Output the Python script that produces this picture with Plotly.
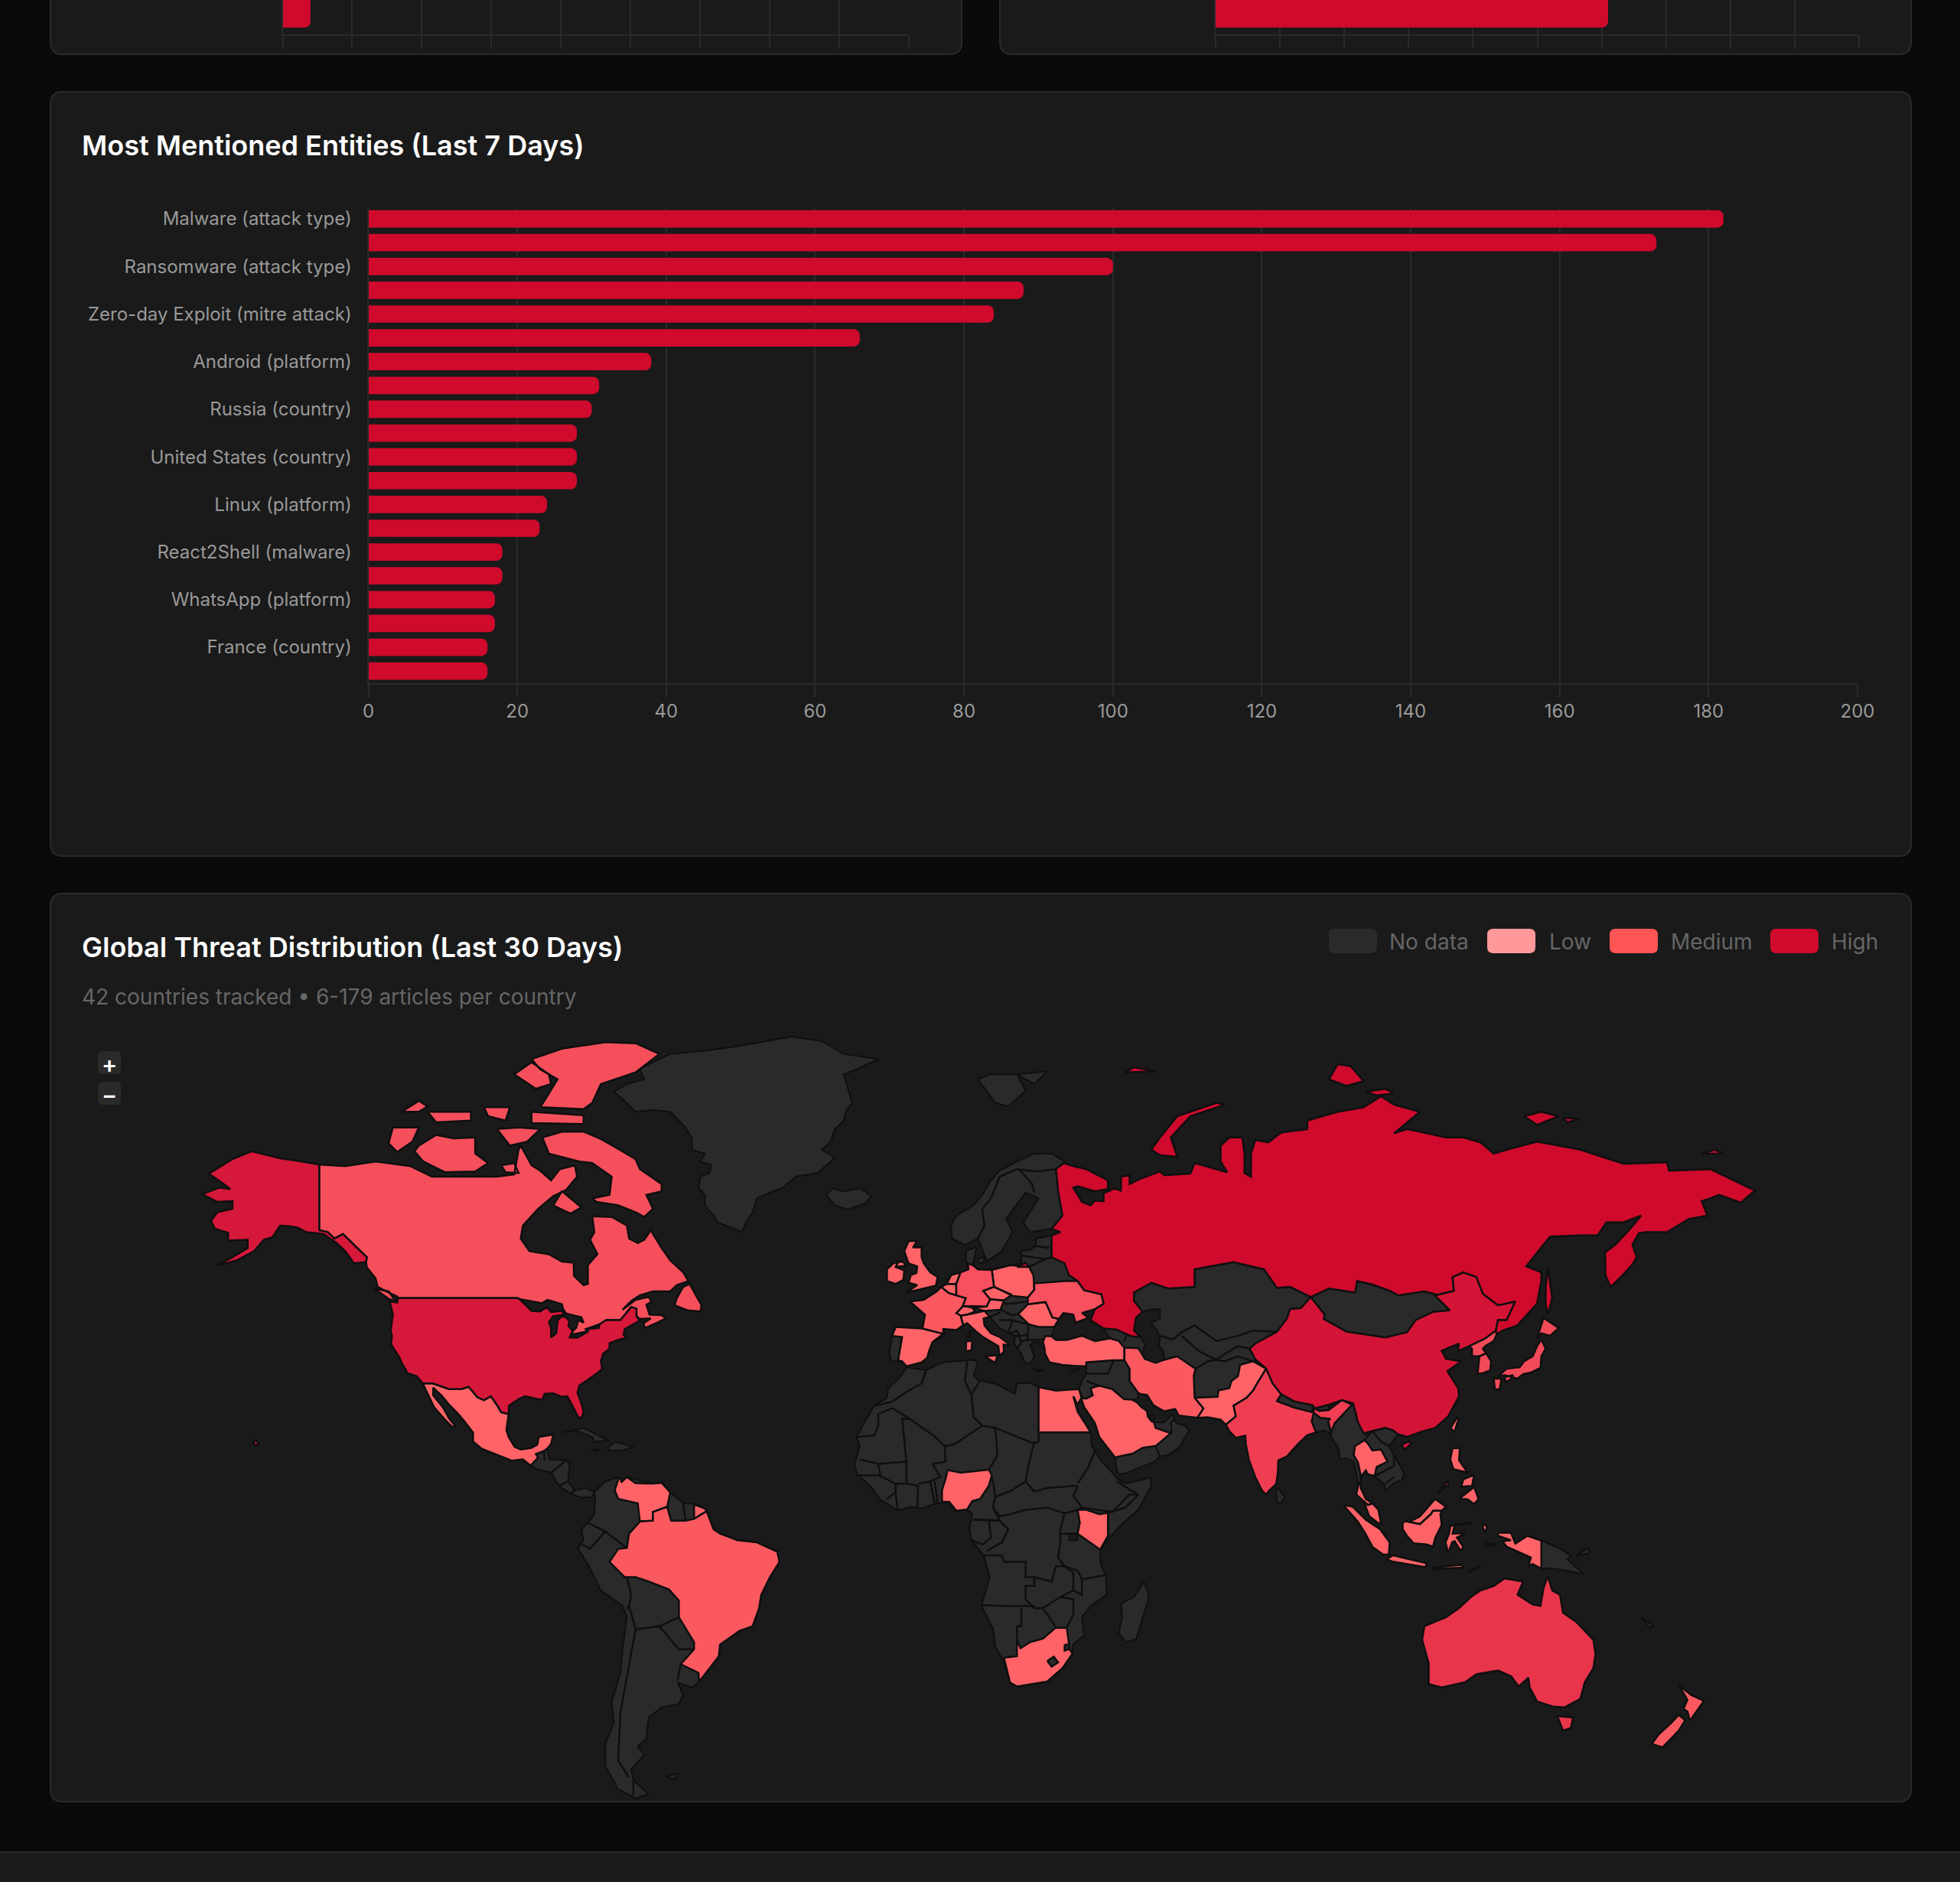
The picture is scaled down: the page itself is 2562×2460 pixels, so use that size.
import math
import plotly.graph_objects as go

W, H = 2562, 2460
BG, CARD, BORDER = "#0a0a0a", "#1a1a1a", "#2a2a2a"
HIGH, MED, LOW = "#cf0a2c", "#ff5555", "#ff9999"
STROKE = "#0f0f0f"
FONT = "Inter, sans-serif"

# ---- top (cropped) charts
top_left_labels = ["Hospitality"]
top_left_values = [0.4]
top_right_labels = ["Coupang"]
top_right_values = [6.1]

# ---- entities chart
entity_values = [182, 173, 100, 88, 84, 66, 38, 31, 30, 28, 28, 28, 24, 23, 18, 18, 17, 17, 16, 16]
entity_tick_index = [0, 2, 4, 6, 8, 10, 12, 14, 16, 18]
entity_tick_labels = ["Malware (attack type)", "Ransomware (attack type)", "Zero-day Exploit (mitre attack)",
                      "Android (platform)", "Russia (country)", "United States (country)", "Linux (platform)",
                      "React2Shell (malware)", "WhatsApp (platform)", "France (country)"]
entity_x_ticks = [0, 20, 40, 60, 80, 100, 120, 140, 160, 180, 200]

legend_names = ["No data", "Low", "Medium", "High"]
legend_colors = [BORDER, LOW, MED, HIGH]

# ---- map outlines, (lon, lat)
ALASKA = [(-141,69.6),(-145,70),(-150,70.4),(-156.6,71.3),(-161,70.3),(-166.5,68.4),(-163,67),(-161.5,66.3),(-164,66.5),(-168,65.6),(-164.5,64.5),(-161,64.6),(-161,63.5),(-164.5,63),(-166,61.7),(-165,60.5),(-162,59.9),(-162,58.7),(-157.5,58.8),(-157.5,57.5),(-161,56),(-164.8,54.6),(-160,55.5),(-156,57),(-153.8,58.8),(-151.8,59.2),(-150,61),(-148,60.9),(-146,60.7),(-144,60),(-140,59.7),(-137,58.3),(-135,57),(-133,55),(-130.2,55.2),(-130,56),(-133,58),(-135.5,59.7),(-137.5,59),(-139,60),(-141,60.3)]
HAWAII = [(-156,19),(-155,19.5),(-155.5,20.2),(-156,20.2)]
USA48 = [(-124.7,48.4),(-123,48.2),(-122.8,49),(-95.2,49),(-94.6,48.7),(-92,46.7),(-90,46.6),(-88.5,47.4),(-87.5,46.5),(-85,46.7),(-84.5,46),(-85,45.9),(-87,45.7),(-88,44.6),(-87.5,43.5),(-87.5,41.7),(-86.3,42.5),(-86,44.9),(-85,45.7),(-84,45.5),(-83.3,44.8),(-83.5,43.9),(-82.5,43),(-82.9,42.1),(-83.2,41.7),(-81.5,41.6),(-79,42.8),(-79,43.3),(-76.5,43.5),(-76.3,44.2),(-74.8,45),(-71.5,45),(-70.3,46.2),(-69,47.4),(-67.8,47.1),(-67.8,45.7),(-67,44.9),(-69,44),(-70.5,43.3),(-70.8,42.2),(-70,41.7),(-72,41.2),(-74,40.6),(-74,39.5),(-75.5,38.5),(-76,37),(-75.7,35.5),(-76.7,34.7),(-78,33.9),(-79.2,33.2),(-81,32),(-81.4,30.5),(-80.4,28),(-80,26.5),(-80.4,25.2),(-81.2,25.3),(-82,26.8),(-82.8,28.2),(-83.8,29.8),(-85.2,29.7),(-87,30.4),(-89,30.3),(-89.5,29.1),(-91,29.3),(-93.5,29.8),(-95,29.2),(-97.2,27.8),(-97.3,26),(-99,26.4),(-100,28),(-101.4,29.8),(-103,29),(-104.5,29.6),(-106.5,31.8),(-108.2,31.3),(-111,31.3),(-114.8,32.5),(-117.1,32.5),(-118.5,34),(-120.6,34.6),(-121.9,36.6),(-122.5,37.8),(-123.8,39.5),(-124.4,40.4),(-124.2,42),(-124.5,43),(-124,46)]
CANADA = [(-141,69.6),(-135,69.4),(-128,70),(-125,69.8),(-120,69.4),(-115,68),(-110,68),(-105,68),(-100,68),(-96,68.3),(-95,71.5),(-94.5,72),(-92,69.5),(-90,68.8),(-87.5,67.5),(-85.5,69),(-82,69.5),(-81.5,68),(-84,66.2),(-87,65.3),(-90.5,63.5),(-94,61),(-94.5,59),(-92.5,57),(-88,56.5),(-85,55.3),(-82.3,55.1),(-82.2,52.9),(-80,51.3),(-79,51.5),(-79,54.7),(-76.8,56.5),(-78.5,58.8),(-77.5,60),(-78,62.4),(-73.5,62.3),(-70,61),(-69.5,59),(-67.5,58.3),(-66,58.8),(-64.5,60.3),(-62,57.5),(-60,55.5),(-57,53.5),(-55.8,52),(-58.5,51.3),(-60,50.2),(-64,50.2),(-67,49.5),(-69,48.5),(-71,46.9),(-68,48.7),(-65,49.2),(-64.3,48.4),(-65.5,47.8),(-64.8,46),(-62,45.9),(-61,45.3),(-63,44.5),(-65.8,43.5),(-66.2,44.4),(-64.5,45.3),(-67,45.2),(-67.8,45.7),(-67.8,47.1),(-69,47.4),(-70.3,46.2),(-71.5,45),(-74.8,45),(-76.3,44.2),(-79.5,43.3),(-79,42.9),(-83,42.2),(-82.4,43),(-81.7,43.5),(-81.2,45),(-80,44.5),(-80.5,45.5),(-84,46.2),(-84.7,47),(-85,47.9),(-88.3,48.7),(-89.6,48.1),(-92,48.4),(-94.6,48.8),(-95.2,49),(-122.8,49),(-123,49.3),(-125,50),(-127.5,51),(-128,52.5),(-130,54.3),(-130.2,55.2),(-130,56),(-133,58),(-135.5,59.7),(-137.5,59),(-139,60),(-141,60.3)]
BAFFIN = [(-80,73.7),(-76,72.8),(-72,71.6),(-68,70.3),(-67,69),(-62,67),(-62,66),(-65.5,65.5),(-64,63.5),(-66,62.3),(-68,63),(-72,64),(-77,64.5),(-78,65),(-74,65.5),(-73.5,68),(-78,69.8),(-81,70),(-88,71),(-89.5,73),(-85,73.7)]
VICTORIA = [(-117,70),(-112,68.6),(-105,68.7),(-102,69.8),(-105,71),(-105,73),(-110,72.9),(-114,73.3),(-118,72),(-119,71.3)]
ELLESMERE = [(-90,76.5),(-80,76.3),(-78,77),(-76,79),(-68,80.2),(-62.5,82),(-68,83),(-75,83.1),(-85,82.5),(-92,81.5),(-90,80.5),(-86,79.5),(-88,78)]
AXEL = [(-96,80),(-92,81.2),(-88,80),(-87.5,79),(-91,78.5)]
DEVON = [(-92,76),(-80,75.6),(-80,74.6),(-92,74.7)]
BANKS = [(-123,71.2),(-125,72.3),(-124,74.2),(-118,74.2),(-119.5,72.5)]
MELVILLE = [(-116,76),(-106,76),(-106,75),(-114,74.8)]
PATRICK = [(-122,76),(-118,77.2),(-116,76.6),(-118,76)]
BATHURST = [(-103,76.5),(-97,76.5),(-98,75),(-102,75.5)]
KING_WILLIAM = [(-99,69.5),(-96,69.8),(-95,68.5),(-98,68.6)]
SOMERSET = [(-100,74),(-97,72),(-93,72.5),(-90,74),(-95,74.2)]
SOUTHAMPTON = [(-87,64),(-83,62.8),(-80.5,63.7),(-85,66)]
NEWFOUNDLAND = [(-59,47.7),(-56,46.8),(-53,46.6),(-52.8,47.8),(-54,49.4),(-55.5,51.5),(-57,51),(-58.5,49)]
VANCOUVER = [(-128.3,50.7),(-125,48.9),(-123.3,48.4),(-125,50.2)]
MEXICO = [(-117.1,32.5),(-114.8,32.5),(-111,31.3),(-108.2,31.3),(-106.5,31.8),(-104.5,29.6),(-103,29),(-101.4,29.8),(-100,28),(-99,26.4),(-97.3,26),(-97.8,22.5),(-97.3,21),(-95.9,18.8),(-94.5,18.2),(-92,18.6),(-90.7,19.3),(-90.3,21),(-87,21.5),(-87.5,19.5),(-88.3,18.5),(-89.1,17.9),(-91,17.2),(-90.5,16.4),(-92.2,14.6),(-94,16),(-96.5,15.7),(-100,17),(-103.5,18.4),(-105.5,20),(-105.5,22),(-108,25),(-109.4,26.5),(-111,28),(-112.8,30),(-114.7,31.6),(-114.7,30),(-112.5,27.5),(-111,25),(-109.5,23.3),(-110.3,23.2),(-112.2,25),(-114.5,27.5),(-115.8,30)]
GREENLAND = [(-73,78.2),(-71,77.4),(-68,76),(-64,76.2),(-60,76),(-57,74.5),(-55,73),(-55,71.5),(-52,71),(-53,70),(-50.5,69.5),(-51,68.5),(-53,68),(-53.5,66.5),(-52,65.5),(-52,64),(-50,62.5),(-49,61.5),(-46,60.7),(-43.5,60),(-42.5,61.5),(-41,63),(-40,65),(-37,65.8),(-34,66.5),(-31,68),(-26,68.5),(-23,70),(-22,70.5),(-25,71.5),(-23,72.5),(-22,74),(-20,75),(-19.5,76),(-18,77),(-19,78.5),(-20,80),(-17,80.5),(-12,81.5),(-20,82),(-25,83.2),(-32,83.6),(-45,82.7),(-52,82.3),(-60,82),(-65,81),(-67,80.5),(-66,79.5),(-70,79)]
ICELAND = [(-24,65.5),(-22,64),(-19,63.4),(-15,64.3),(-13.6,65.3),(-16,66.4),(-20,66),(-22.5,66.4)]
SVALBARD = [(11,79.5),(15,77),(18,76.6),(22,78.3),(20,80),(14,80)]
SVALBARD_E = [(20,80),(27,80.3),(24,79)]
RUSSIA = [(30.8,69.8),(33,69.4),(36,69),(41,67.5),(41,66.3),(38,66),(34,66.7),(33,66.5),(35,64.5),(37,64),(38,64.7),(40,64.6),(40,65.7),(42.5,66.4),(44,66.1),(44,68),(46,68.2),(46,67),(48,67.6),(53,68.7),(54,68.2),(60,68.4),(61,69.8),(65,69.2),(68.5,68.6),(67,70),(67,72),(69,73),(72,73),(72.5,71),(72.5,68.5),(74,68),(74,71),(75,72.7),(78,72.4),(81,73.6),(87,74),(87,75),(94,76),(100,76.5),(104,77.7),(107,76.8),(113,76),(107,73.5),(110,74),(113,73.7),(119,73),(123,73),(127,72.4),(130,71),(133,71.5),(140,72.5),(150,71.5),(160,69.7),(170,69.9),(170.5,68.8),(180,69),(190.3,66.1),(187,64.4),(182,65.5),(180,65),(178,64.6),(179.3,62.5),(175,62),(170,60),(165,60),(163.5,59.8),(162,58),(163,56),(162,54.8),(160,53.2),(157,51),(155.8,53),(155.7,56.8),(158,58),(161.5,60.5),(164,62.5),(160,61.5),(156,61.5),(154,59.5),(150,59.5),(143,59.3),(137.5,54.5),(141,53.5),(141,52),(140,48),(135.5,44),(132,43),(130.7,42.3),(130.5,43),(131,45),(133,45),(135,48.4),(131,47.7),(127.5,49.8),(126,52.7),(123,53.5),(120.5,52.7),(120.8,50.3),(117,49.6),(114,50.2),(108,49.5),(106,50.3),(102,51.4),(98.5,52),(98,50),(92,50.7),(87.8,49.2),(83,51),(80,50.8),(77,54),(71,55),(70,55.2),(61,54),(61,51),(55,50.7),(51,51.7),(47,50),(47,48.5),(49,46.5),(47.5,45.5),(47,43),(48.5,41.8),(46.5,41.9),(43,43.2),(40,43.4),(37,45),(38,47),(40,48),(39.5,49.7),(35.5,50.4),(34,52),(32,53),(31,55),(28,56),(28,59.5),(30,60),(28,60.5),(30.5,62.5),(29.5,66),(29,69)]
NOVAYA = [(51,71.5),(53,70.8),(57,70.6),(55.5,73),(60,75.5),(68,76.8),(66,77),(57,75.5),(53,73)]
FRANZ = [(47,80.7),(52,80.3),(45,80.2)]
SEVERNAYA = [(94,81),(97,80.8),(100,79.3),(96,78.8),(92,79.5)]
SEVERNAYA_S = [(100.5,78.2),(105,78.5),(107,78),(103,77.8)]
NEWSIB = [(137,75.5),(141,76),(145,75.5),(140,74.5)]
NEWSIB_E = [(146,75.3),(150,75.2),(147,74.8)]
WRANGEL = [(178,71),(181,71.5),(183,71)]
SAKHALIN = [(142.5,54.3),(143,52),(143.5,49),(142.5,46),(142,48),(142,51)]
KALININGRAD = [(20,54.4),(22.8,54.4),(22,55.1)]
EURASIA_BASE = [(-9,37),(-9.5,38.7),(-8.8,42),(-8,43.7),(-1.8,43.4),(-1.2,46),(-4.7,48.4),(-1.5,48.7),(1.5,50.2),(3.5,51.4),(4.8,53),(7,53.5),(8.8,54),(8.2,55.5),(8.2,57),(10.6,57.7),(10.3,56.3),(9.8,55),(11,54),(14,54),(18.5,54.7),(21,55),(21,57),(23,57.2),(24.3,57.8),(24.5,59),(28,59.5),(30,60),(40,48),(38,47),(35,46.3),(36.5,45.4),(33.5,44.5),(33,46),(30.7,46.3),(29.7,45.2),(28.6,43.5),(28,41.9),(26,40.7),(24,40.9),(23,40.3),(24,38),(23,36.5),(21.7,36.9),(21,38.5),(19.4,40.4),(19.5,42),(16,43.5),(13.7,45.6),(12.3,45.4),(8.5,44.4),(6,43.1),(3,43.3),(3.3,42),(0.5,40.8),(-0.3,39),(-0.7,37.7),(-2,36.8),(-5.5,36),(-6.5,37)]
SCANDINAVIA = [(5,59),(4.8,61),(6,62.5),(10,64),(12,65.5),(14,67.5),(16,68.8),(20,70),(24,71),(28,71),(31,70),(29,69),(29.5,66),(30.5,62.5),(28,60.5),(23,60),(21.5,61.5),(25,65),(22,65.8),(17.5,62),(19,60),(16.5,57),(14.5,56),(13,55.4),(11,59),(8,58)]
ZEALAND = [(11,55.7),(12.5,56),(12.3,55),(11,55.2)]
CRETE = [(23.6,35.5),(26.2,35.1),(24.8,35)]
CYPRUS = [(32.3,35),(34.5,35.6),(33.7,34.8)]
CENTRAL_ASIA = [(51,51.7),(55,50.7),(61,51),(61,54),(70,55.2),(71,55),(77,54),(80,50.8),(83,51),(87.8,49.2),(85.5,47.2),(83,47),(82.3,45.3),(80,42.8),(75,40.5),(73.7,39.5),(75,37.4),(74.5,37),(71.5,36.3),(71,34),(69.5,33),(69,31.5),(66.5,31),(66.3,29.7),(61,29.5),(60.8,34),(61.2,35.5),(57,38),(54,37.3),(53.8,39),(52.8,40),(53,41.5),(52.5,42.8),(51,44.5),(53,45.3),(53,47),(51,47),(49,46.5),(47,48.5),(47,50)]
CAUCASUS = [(40,43.4),(43,43.2),(46.5,41.9),(48.5,41.8),(49.5,40.3),(48.9,38.4),(48,39.6),(44.8,39.7),(43.5,41),(41.5,41.5)]
LEVANT = [(36,36.8),(42.3,37.2),(44.8,37.2),(46,35.5),(46,33),(48,30.5),(48,29.5),(47,29),(46.5,29.1),(44.7,29.2),(42,31.3),(39,32),(37,31.5),(37.5,30),(36,29.3),(35,29.5),(34.3,31.3),(35,33),(36,34.5)]
SAUDI = [(34.8,29.4),(36,29.3),(37.5,30),(37,31.5),(39,32),(42,31.3),(44.7,29.2),(46.5,29.1),(47.7,28.5),(48.7,27.5),(50,26.7),(50.2,25.5),(51,24.5),(51.6,24.2),(52,23),(55,22),(55.7,22),(52,19),(49,18.6),(46.7,17.3),(43.2,16.6),(42.7,16.4),(41,18.5),(39,21),(38,24),(35.5,27.5)]
YEMEN = [(42.7,16.4),(43.2,16.6),(46.7,17.3),(49,18.6),(52,19),(53,16.7),(52,15.6),(48,14),(45,12.8),(43.3,12.7),(42.8,15)]
OMAN = [(52,19),(55.7,22),(55.5,24.1),(56.3,24.9),(56.8,24),(58.7,23.5),(59.8,22.5),(58.5,20.5),(57.7,18.9),(55,17),(53,16.7)]
UAE = [(51.6,24.2),(54,24.2),(56,26),(56.3,24.9),(55.5,24.1),(55.7,22),(55,22),(52,23)]
QATAR = [(51,24.6),(51.6,25),(51.2,26.1),(50.8,25.5)]
IRAN = [(44.8,39.7),(48,39.6),(48.9,38.4),(49.5,37.5),(52,36.7),(54,37.3),(57,38),(61.2,35.5),(60.8,34),(61,29.5),(63,27.2),(61.6,25.2),(57.3,25.7),(56.5,27.1),(54,26.6),(51.5,27.9),(50,30.1),(48.7,30.2),(48,30.5),(46,33),(46,35.5),(44.8,37.2)]
PAKISTAN = [(61,29.5),(66.3,29.7),(66.5,31),(69,31.5),(69.5,33),(71,34),(71.5,36.3),(74.5,37),(77.5,35.5),(75.3,32.3),(74.5,31),(73,29.5),(70,27.8),(70.5,25.5),(68.2,23.7),(67,24.8),(64,25.3),(61.6,25.2),(63,27.2)]
INDIA = [(77.5,35.5),(79,32.5),(81,30.2),(80,28.8),(84,27.4),(88.2,26.4),(88.8,27.2),(89.8,26.7),(92,26.9),(95,29),(97.3,28),(95,25.8),(93.3,24),(92.5,22),(91.8,24.5),(92.3,25),(90,25.2),(88.5,26.3),(88,24.4),(89,22),(87,21.4),(85,19.6),(82.3,16.7),(80.3,15.8),(80.2,13),(79.8,10.4),(78.2,8.9),(77.5,8),(76.5,9),(75,12),(73.5,16),(72.8,19.5),(72.7,21.3),(70.5,20.8),(69,22.3),(68.2,23.7),(70.5,25.5),(70,27.8),(73,29.5),(74.5,31),(75.3,32.3)]
NEPAL = [(80,28.8),(81,30.2),(84,28.7),(88.2,27.9),(88.2,26.4),(84,27.4)]
BHUTAN = [(88.8,27.2),(92,28),(92,26.9),(89.8,26.7)]
SRI_LANKA = [(80,9.7),(81.8,7.5),(81,6),(80,6.2),(79.8,8)]
CHINA = [(73.7,39.5),(75,40.5),(80,42.8),(82.3,45.3),(83,47),(85.5,47.2),(87.8,49.2),(91,46),(90.8,45.2),(96,42.8),(105,41.7),(110,42.7),(112,45),(116,46.5),(119.9,46.8),(116,49.8),(117,49.6),(120.8,50.3),(120.5,52.7),(123,53.5),(126,52.7),(127.5,49.8),(131,47.7),(135,48.4),(133,45),(131,45),(130.5,43),(128,41.5),(124.3,40),(121.7,39),(122,40.5),(118,39.1),(119,37.5),(122.5,37),(119.3,35),(121.8,31.5),(122,29.8),(119.5,25.5),(116.5,23),(113.5,22.2),(110,21),(108,21.6),(106.7,22.5),(105,23),(102,22.3),(100,21.8),(98.7,24.2),(97.6,28.3),(95,29),(92,28),(88.8,27.2),(88.2,27.9),(84,28.7),(81,30.2),(79,32.5),(77.5,35.5),(75,37.4)]
HAINAN = [(108.7,19.3),(110.5,20),(111,19.6),(109.5,18.2)]
MONGOLIA = [(87.8,49.2),(92,50.7),(98,50),(98.5,52),(102,51.4),(106,50.3),(108,49.5),(114,50.2),(117,49.6),(116,49.8),(119.9,46.8),(116,46.5),(112,45),(110,42.7),(105,41.7),(96,42.8),(90.8,45.2),(91,46)]
NORTH_KOREA = [(130.7,42.3),(130,41),(128,40),(127.5,39.5),(128.3,38.6),(126.7,38),(125,38),(125,39.5),(124.3,40),(128,41.5),(130.5,43)]
SOUTH_KOREA = [(128.3,38.6),(129.4,37),(129.2,35.2),(127.5,34.6),(126.3,34.5),(126.6,37),(126.7,38)]
HONSHU = [(141,41.3),(142,39.5),(141,38),(140.8,35.7),(138.5,34.7),(136.8,34.4),(135.5,33.5),(132.5,34.2),(131,34),(133,35.5),(136,35.8),(137,37),(139,38),(140,40)]
KYUSHU = [(130,33.5),(131.8,33.5),(131.4,31.3),(130.3,31.2)]
SHIKOKU = [(132.5,33.8),(134.5,34.2),(134,33.4),(132.8,32.8)]
HOKKAIDO = [(140,41.5),(141.5,45.4),(145,43.5),(143,42),(141,42.5)]
MYANMAR = [(92.5,21),(92.5,22),(93.3,24),(95,25.8),(97.3,28),(97.6,28.3),(98.7,24.2),(100,21.8),(101,21.2),(100.2,20.3),(98,19),(97.7,17),(98.7,15.3),(99.5,11.5),(98.7,10),(98.5,12),(97.7,15.5),(96,16.2),(94.5,16),(94.2,18.5)]
BANGLADESH = [(88,24.4),(88.5,26.3),(90,25.2),(92.3,25),(91.8,24),(92.5,21.5),(91,22.5),(89,22)]
THAILAND = [(98,19),(100.2,20.3),(101,19.5),(102,18),(104,18.2),(105.5,15.5),(103,14.3),(102.5,12.2),(100.9,12.7),(100.5,13.5),(99.3,12),(99.3,9.5),(100.5,7),(102,6),(101,5.6),(100,6.5),(98.3,8),(98.7,10),(99.5,11.5),(98.7,15.3),(97.7,17)]
INDOCHINA = [(102,22.3),(105,23),(106.7,22.5),(108,21.6),(105.8,19),(107,17),(109.3,13),(109,11.5),(106.8,10.5),(105,8.7),(104.8,10.3),(102.5,12.2),(103,14.3),(105.5,15.5),(104,18.2),(102,18),(101,19.5),(100.2,20.3),(101,21.2)]
MALAYA = [(101,5.6),(102,6),(103.4,4.5),(104,1.4),(103.4,1.4),(101.3,3),(100.3,5.7),(100,6.5)]
SUMATRA = [(95.3,5.6),(97.5,5.2),(100.5,2.2),(103.8,0),(106,-3),(105.8,-5.8),(104.5,-5.8),(102,-4),(100.3,-0.8),(98.7,1.7)]
JAVA = [(105.3,-6.8),(106.8,-6),(110.5,-6.9),(114.5,-7.8),(114.3,-8.7),(110,-8),(106.5,-7.4)]
KALIMANTAN = [(109,1.5),(109.7,1.9),(113,1.2),(115.5,3.5),(116,4.3),(118,4.3),(117.7,3.5),(118,1),(116.5,-2),(116,-4),(114.5,-3.5),(111.5,-3.2),(110,-1.5),(109,0)]
SARAWAK_SABAH = [(109.7,1.9),(110.5,1.7),(113,3),(114.5,4.7),(116.5,7),(119,5.2),(118,4.3),(116,4.3),(115.5,3.5),(113,1.2)]
SULAWESI = [(119.5,-5.5),(120.4,-3),(121,-2.7),(122.4,-5),(123,-4),(121.5,-1.9),(123.5,-0.9),(120.5,-1),(121,1),(125,1.5),(120,0.8),(119.7,-1),(118.9,-3)]
PAPUA_W = [(131,-0.8),(134,-0.8),(135,-3.3),(137.8,-1.5),(141,-2.6),(141,-9.1),(139,-8),(138,-8.4),(138.6,-6.5),(133,-4),(132,-2.8),(134,-2.5),(131,-1.5)]
PNG = [(141,-2.6),(145,-4.3),(147.8,-6),(147,-7),(150.8,-10.3),(147,-9.5),(143,-9),(141,-9.1)]
NEW_BRITAIN = [(149,-6),(152,-5.5),(152,-4.2),(150,-5.5)]
SUNDA = [(116,-8.9),(119,-8.5),(122.5,-8.2),(123,-8.8),(119,-9),(116,-9.2)]
TIMOR = [(124,-10),(127,-8.4),(125,-9.2)]
HALMAHERA = [(127.5,1.5),(128.5,0.5),(128,-0.8),(127.5,0.5)]
SERAM = [(128,-3.2),(130.8,-3.6),(128,-3.7)]
LUZON = [(120.5,18.5),(122.2,18.5),(122,15.8),(124,13),(120.7,13.8),(120,16)]
MINDANAO = [(122,7),(125.5,9.7),(126.5,7),(125.5,5.8),(124,6.9)]
VISAYAS = [(123,11.5),(125.5,12.5),(125,10),(122.5,9.8)]
PALAWAN = [(117.2,8.3),(119.5,11.3),(119.5,10.3)]
TAIWAN = [(120.1,23),(121.5,25.2),(121.9,24.9),(120.9,22)]
AUSTRALIA = [(114,-22),(113.5,-25),(115,-30),(115,-34.3),(118,-35),(123.5,-33.9),(126,-32.3),(131,-31.5),(134,-32.7),(135.8,-34.8),(138,-33),(138.3,-35),(140,-37.8),(143.5,-38.8),(146.3,-39),(150,-37.3),(151,-34),(153,-31),(153.5,-28),(153,-25),(149,-21),(146,-19),(145.3,-15),(143.5,-14),(142.5,-10.8),(141.5,-13.5),(140.8,-17.5),(139,-17.2),(135.5,-15),(136.8,-12),(132.5,-11.3),(130,-13),(127,-14),(125,-15.3),(122,-18),(119,-20)]
TASMANIA = [(144.7,-40.7),(148.3,-41),(147.8,-43),(146,-43.5)]
NZ_NORTH = [(172.7,-34.5),(175.5,-36.5),(178.5,-37.7),(177,-39.5),(175.3,-41.6),(174.7,-39.8),(173.8,-39.3),(174.7,-37.5)]
NZ_SOUTH = [(172.7,-40.5),(174.2,-41.5),(172.7,-43.5),(171,-45),(169,-46.6),(166.5,-46),(168,-44.3),(171,-42)]
NEW_CALEDONIA = [(164,-20),(167,-22),(166,-22.3)]
AFRICA = [(-5.5,35.8),(-1,35.2),(3,36.8),(10,37.3),(11,36.8),(10,34.2),(11,33.2),(15.3,32.3),(19.5,30.3),(20,32.5),(23,32.6),(25,31.7),(29,31),(32,31.2),(34.3,31.3),(34.9,29.5),(34,28),(33,29.8),(34,26.5),(35.7,24),(37,22),(37.3,19),(39.5,15.5),(42.5,12.5),(43.3,11.5),(45,10.5),(51,11.9),(51,10),(48,4.5),(44,1),(41.5,-1.8),(39.2,-4.7),(39.3,-8),(40.5,-10.5),(40.7,-15),(37,-17.5),(35,-20),(35.5,-24),(32.9,-26),(32.8,-28),(30.5,-31),(27,-33.8),(20,-34.8),(18.4,-34),(17,-29.5),(15,-26.5),(14.5,-22.5),(11.8,-17.5),(13.7,-11),(12.3,-6),(9.5,-2.5),(9,0),(9.7,3.5),(8.5,4.6),(6,4.3),(4.4,6.3),(1,5.9),(-2,4.8),(-4.5,5.2),(-7.5,4.4),(-11.5,6.8),(-13.5,9.5),(-15,11),(-16.8,12.5),(-17.5,14.7),(-16.3,19),(-17,21),(-15,24.5),(-13,27.7),(-10,29.5),(-9.7,31.5),(-7,33.7)]
MADAGASCAR = [(49.3,-12),(50.5,-15.5),(47.5,-24.8),(45.2,-25.5),(43.5,-23.5),(44.3,-20),(44,-17),(47,-15.5)]
LAKE_VICTORIA = [(32,-1),(34,-1),(34,-2.5),(32,-2.5)]
EGYPT = [(25,31.7),(29,31),(32,31.2),(34.3,31.3),(34.9,29.5),(34,28),(33,29.8),(34,26.5),(35.7,24),(37,22),(25,22)]
NIGERIA = [(2.7,6.4),(4.4,6.3),(6,4.3),(8.5,4.6),(9.7,6.5),(11.5,7),(13.5,10),(14.2,12.4),(13.5,13.7),(10,13.3),(7,13),(4,13.6),(3.5,11.5),(2.7,9)]
KENYA = [(34,4.5),(36,4.5),(39,3.5),(41,3.8),(41,-1.5),(39.2,-4.7),(37.7,-3.6),(34,-1),(34.5,1.5)]
SOUTH_AFRICA = [(17,-28.8),(18.4,-34),(20,-34.8),(27,-33.8),(30.5,-31),(32.8,-28),(32,-26.8),(32,-25.8),(31.5,-22.4),(29,-22.3),(26,-24.7),(23,-25.5),(20.8,-26.8),(20,-25),(20,-28.5)]
LESOTHO = [(27,-29.5),(28.5,-28.6),(29.5,-29.8),(28,-30.7)]
ESWATINI = [(31,-26),(32,-26),(32,-27),(31,-27.3)]
SOUTH_AMERICA = [(-77.5,8.6),(-75,11),(-72,12),(-71.5,10.8),(-70,12),(-64,10.5),(-62,10.7),(-60,8.5),(-57,6),(-54,5.8),(-51.5,4.4),(-50,0),(-48.5,-1),(-44.5,-2.5),(-40,-3),(-35.3,-5.2),(-34.8,-7.5),(-37,-11),(-39,-15),(-39.5,-18),(-41,-22),(-44,-23),(-48.5,-26),(-48.8,-28.5),(-53.3,-33.8),(-55,-35),(-58.3,-34),(-57,-36.5),(-58,-38.3),(-62,-39),(-65,-41),(-65.5,-45),(-67.5,-46.5),(-66,-48),(-69,-50.5),(-68.5,-52.5),(-65,-54.8),(-68,-55.5),(-72,-54),(-75,-50),(-75,-46),(-73,-42),(-73.5,-38),(-71.5,-32),(-71,-27),(-70,-20),(-71,-17.5),(-76,-14),(-79,-8),(-81.3,-4.5),(-80,-2.5),(-80.5,0),(-79,1.5),(-77.5,3.5),(-77.3,7)]
BRAZIL = [(-51.6,4.2),(-50,0),(-48.5,-1),(-44.5,-2.5),(-40,-3),(-35.3,-5.2),(-34.8,-7.5),(-37,-11),(-39,-15),(-39.5,-18),(-41,-22),(-44,-23),(-48.5,-26),(-48.8,-28.5),(-53.3,-33.8),(-53.5,-32),(-57.6,-30.2),(-54.5,-27),(-54.5,-25.5),(-55.5,-24),(-58,-20),(-58,-16.3),(-60.3,-13.8),(-65,-12),(-68,-11),(-70.5,-11),(-74,-7.5),(-72,-4.5),(-70,-4.3),(-69.5,-1),(-67,1.8),(-64,2),(-64,4),(-60.7,5.2),(-59.8,2),(-56.5,2),(-54.5,2.4)]
FR_GUIANA = [(-54.5,5.7),(-52,4.8),(-51.6,4.2),(-54.5,2.4)]
VENEZUELA = [(-71.5,12),(-71.3,10.8),(-70,12),(-68,10.6),(-64,10.5),(-62,10.7),(-60,8.5),(-60.7,5.2),(-64,4),(-64,2),(-67,1.8),(-67.5,6),(-72,7),(-72.8,9),(-72,11.5)]
FALKLANDS = [(-61,-51.8),(-58,-51.3),(-59,-52.3)]
CENTRAL_AMERICA = [(-92.2,14.6),(-91,17.2),(-89.1,17.9),(-88.3,18.5),(-88,16),(-84,15.8),(-83.2,15),(-83.6,11),(-82,9),(-79.5,9.5),(-77.5,8.6),(-78,7.5),(-80.5,7.3),(-83,8.2),(-85.7,10),(-87.5,13),(-91,13.9)]
CUBA = [(-84.8,22),(-80,23),(-74.2,20.2),(-77.5,19.9),(-78,21),(-82,22.5)]
HISPANIOLA = [(-74.5,18.5),(-72.7,19.9),(-68.5,18.8),(-71,18),(-74,18)]
JAMAICA = [(-78.3,18.3),(-76.3,18.1),(-77,17.8)]
GREAT_BRITAIN = [(-5.5,50),(1.3,51.2),(1.7,52.7),(0,53.5),(-1.5,55),(-2,56),(-2,57.6),(-4,57.6),(-3,58.6),(-5,58.6),(-6,57),(-5,55),(-3,54.5),(-3.2,53.4),(-4.5,53),(-5,51.7),(-3,51.3)]
N_IRELAND = [(-8,54.4),(-5.6,54.6),(-6.2,55.2),(-7.3,55.3)]
IRELAND = [(-10,52),(-8,51.5),(-6.2,52.2),(-6,53.8),(-8,54.4),(-7.3,55.3),(-8.5,55),(-10,54)]
FRANCE = [(-1.8,43.4),(-1.2,46),(-4.7,48.4),(-1.5,48.7),(1.5,50.2),(2.5,51),(4.2,49.9),(6,49.5),(8.2,49),(7.5,47.5),(6,46.3),(7,45.8),(7.6,44),(6,43.1),(3,43.3),(3,42.4)]
CORSICA = [(9,41.5),(9.5,43),(8.6,42)]
SPAIN = [(-8.8,42),(-8,43.7),(-1.8,43.4),(3,42.4),(0.5,40.8),(-0.3,39),(-0.7,37.7),(-2,36.8),(-5.5,36),(-6.5,37),(-7.4,37.2),(-7,39.5),(-6.5,41.8)]
GERMANY = [(6,51.5),(7,53.5),(8.8,54),(8.7,55),(10,54.6),(11,54),(14.2,53.9),(14.7,51),(12.2,50.3),(13.8,48.8),(13,47.5),(7.5,47.6),(8.2,49),(6,49.5)]
NETHERLANDS = [(3.8,51.5),(4.8,53),(7,53.5),(6,51.5)]
BELGIUM = [(2.5,51),(3.8,51.5),(6,51.5),(6,49.5),(4.2,49.9)]
POLAND = [(14.2,53.9),(18.5,54.7),(22.8,54.4),(23.8,53),(24,50.5),(22.5,49.1),(19,49.4),(14.7,51)]
CZECHIA = [(12.2,50.3),(14.7,51),(18.8,49.6),(17,48.6),(13.8,48.8)]
AUSTRIA = [(9.6,47.3),(13,47.5),(13.8,48.8),(17,48.6),(16.2,46.9),(12.5,46.7)]
SWITZERLAND = [(6,46.3),(7.5,47.6),(9.6,47.3),(10.4,46.6),(8.5,46),(7,45.8)]
ITALY = [(7,45.8),(8.5,46),(12.5,46.7),(13.7,45.6),(12.3,45.3),(12.5,44),(14,42.5),(16,41.8),(18.5,40.2),(16.9,40.3),(17,39),(16,38),(15.7,40),(12.3,41.7),(10.5,42.9),(8.5,44.4),(7.6,44)]
SICILY = [(12.5,38),(15.5,38.2),(15,36.7)]
SARDINIA = [(8.2,39),(8.3,41),(9.7,41),(9.5,39.2)]
ROMANIA = [(20.3,46.1),(22.5,47.9),(26.6,48.3),(28.2,45.5),(29.7,45.2),(28.6,43.7),(25,43.7),(22.7,44.2)]
UKRAINE = [(22.5,49.1),(24,50.5),(24,51.6),(31,52),(34,52),(35.5,50.4),(39.5,49.7),(40,48),(38,47),(35,46.3),(36.5,45.4),(33.5,44.5),(33,46),(30.7,46.3),(29.7,45.2),(28.2,45.5),(26.6,48.3),(22.5,47.9)]
TURKEY = [(26.3,40),(26,40.7),(26.5,42),(28,41.9),(29,41.2),(31.5,41.2),(35,42),(38,41),(41.5,41.5),(43.5,41),(44.8,39.7),(44.8,37.2),(42.3,37.2),(36,36.8),(36,36),(33,36.1),(30.5,36.3),(27.5,36.8),(26.5,38.5)]

# interior borders between no-data countries, (lon, lat)
BORDER_LINES = [
 [(11,59),(12.5,61),(12,63.5),(14,65),(16,68),(20,69),(24.5,68.7),(29,69)], [(20.5,69),(23.5,67),(24,65.8)],
 [(24.3,57.8),(27.5,57.5)], [(21,56.3),(26.5,55.7)], [(22.8,54.4),(26.5,55.7),(28,56)],
 [(17,48),(19,48),(22.2,48.4)], [(16.2,46.9),(18.8,45.9),(20.3,46.1)], [(13.7,45.5),(16.2,46.5)],
 [(15.8,45),(19,45),(18,42.6)], [(19,44.9),(22.7,44.2)], [(22.7,44.2),(22.5,42.2)], [(22.5,41.2),(26,41.3)],
 [(18.5,42.5),(20,43),(20.5,42.2),(19.4,41.8)], [(19.4,41.8),(20.5,42),(21,40.5),(20,39.7)],
 [(20.5,42),(22.5,42.2),(22.5,41.2),(21,40.9)], [(-7.4,37.2),(-7,39.5),(-6.5,41.8),(-8.8,42)],
 [(53,42),(56,41.3),(58,42.7),(61,44),(66,41),(71,42),(74.5,43),(80,42.8)], [(66,37.3),(62,39),(58,42)],
 [(66,37.3),(68,38.5),(71,40),(73.7,39.5)], [(61.2,35.5),(64,37),(66,37.3),(68,37),(71,38),(74.5,37)],
 [(46,44),(44.8,41)], [(36,33),(39,32)], [(36,34.5),(41,34.5),(42.3,37.2)],
 [(102,22.3),(104,20),(105.8,19)], [(102.5,12.2),(107,14.5),(107,17)], [(105,10.5),(107,12)],
 [(-1,35.2),(-2,32.5),(-5,31),(-8.7,28.7),(-13,27.7)], [(-8.7,27.3),(-12,26),(-12,23.4),(-13,21.3),(-17,21)],
 [(-8.7,27.3),(-4.8,25),(-6.5,25),(-5.5,15.5),(-12,15),(-16.3,16)], [(-4.8,25),(1.2,21),(3.3,19),(4.3,19.1),(5.8,19.5),(12,23.5)],
 [(8.5,36.9),(8,33),(9.5,30.2),(10,25.3),(12,23.5)], [(9.5,30.2),(11.5,33.1)], [(25,31.7),(25,20)],
 [(12,23.5),(15,23),(24,19.5),(25,20)], [(24,20),(22.5,14),(22,11),(24,8.7)], [(24,8.7),(27,9.5),(33,10),(34,10)],
 [(36.5,14.3),(34,10.5)], [(36.5,14.3),(38,18)], [(34,10),(33,7.7),(35,5),(42,4),(46,8),(48,8),(43,11)],
 [(41,-1.5),(41,3.8),(45,5),(48,8)], [(3.3,19),(3.5,15.5),(0.5,15)], [(15,23),(15.5,16.9),(13.5,13.7)],
 [(13.5,13.7),(14.5,11),(15,7.5),(18.5,8.8),(22,11)], [(15,7.5),(14.5,5),(16,3),(18.5,3.5),(22,4.5),(27,5)],
 [(27,5),(31,3.7),(34,4.5),(35,5)], [(31,3.7),(30,0),(30,-1),(34,-1)], [(30,-1),(30,-3),(29.5,-6.5),(31,-8.5),(34,-9.5),(35,-11.5),(40.5,-10.5)],
 [(12.3,-6),(16.5,-6),(17,-7.5),(22,-7.5),(22,-11),(24,-11),(24,-13),(22,-13),(22,-16),(24,-18)], [(11.8,-17.3),(18,-17.5),(24,-17.5)],
 [(20,-22),(21,-22),(21,-18)], [(20,-22),(20,-25)], [(24,-18),(26,-18),(30,-15.5),(33,-14),(33,-10),(31,-8.5),(29,-8.5),(28,-12),(24,-11)],
 [(26,-18),(29,-22.3)], [(31.5,-22.3),(33,-19.5),(33,-16),(30,-15.5)], [(33,-14),(35,-15),(35,-11.5)],
 [(-12,15),(-11.5,12.4),(-16.8,12.4)], [(-12,12.5),(-8,10.5),(-8,8.5),(-10,7)], [(-8,8.5),(-7.5,4.4)],
 [(-3,5),(-2.8,10),(-5.5,10.5),(-8,10.5)], [(-5.5,10.5),(-5.5,15.5)], [(-2.8,10.5),(0,11),(1,6)], [(0,11),(2.3,12),(0.5,15)], [(1.7,6.2),(1,11)],
 [(8.5,4.6),(9.7,6.5)], [(14.5,5),(16,2),(10,2.2)], [(10,2.2),(13.5,2.2),(14,-2),(12,-3.5),(9.5,-2.5)], [(13.5,2.2),(16,2),(18,0),(16.5,-3),(13,-5)],
 [(-69.5,-1),(-70,-4.3),(-75,-0.5),(-78,1),(-79,1.5)], [(-75,-0.5),(-78.5,-4.5),(-80.3,-3.5)], [(-70,-11),(-69,-15),(-69.5,-17.5),(-70,-18.3)],
 [(-69.5,-17.5),(-68,-22.7)], [(-62.5,-22),(-58,-20)], [(-68,-22.7),(-70,-33),(-71.5,-40),(-72,-49),(-69.5,-52)], [(-68.5,-52.6),(-68.5,-55)],
 [(-68,-22.7),(-62.5,-22),(-58,-27),(-54.5,-27)], [(-58.3,-33.5),(-57.6,-30.2)], [(-60.7,5.2),(-59.8,2)], [(-57,6),(-56.5,2)],
 [(-72,7),(-72.8,9)], [(-89.1,17.9),(-89,15.8)], [(-87.5,13),(-84,15.8)], [(-85.7,10),(-83.6,11)], [(-82,9),(-83,8.2)],
]

NO_DATA = [EURASIA_BASE, SCANDINAVIA, ZEALAND, GREENLAND, ICELAND, SVALBARD, SVALBARD_E, CRETE, CYPRUS, CENTRAL_ASIA, CAUCASUS, LEVANT,
           YEMEN, OMAN, UAE, QATAR, MONGOLIA, MYANMAR, BANGLADESH, INDOCHINA, PNG, NEW_BRITAIN, NEW_CALEDONIA, AFRICA, MADAGASCAR,
           SOUTH_AMERICA, FALKLANDS, CENTRAL_AMERICA, CUBA, HISPANIOLA, JAMAICA, SRI_LANKA]
C_MAX = "#ff6367"
TRACKED = [
    (C_MAX, [MEXICO, VENEZUELA, FR_GUIANA, SPAIN, CORSICA, ITALY, SICILY, SARDINIA, ROMANIA, TURKEY, NETHERLANDS, BELGIUM, CZECHIA, AUSTRIA, SWITZERLAND,
             GREAT_BRITAIN, N_IRELAND, IRELAND, SAUDI, EGYPT, NIGERIA, KENYA, SOUTH_AFRICA, THAILAND, MALAYA, SUMATRA, JAVA, KALIMANTAN, SARAWAK_SABAH, SULAWESI,
             PAPUA_W, SUNDA, TIMOR, HALMAHERA, SERAM, LUZON, MINDANAO, VISAYAS, PALAWAN, TAIWAN, PAKISTAN, POLAND]),
    ("#fb5960", [BRAZIL, IRAN, FRANCE, NZ_NORTH, NZ_SOUTH]),
    ("#f7505f", [GERMANY, UKRAINE]),
    ("#f64f5c", [CANADA, BAFFIN, VICTORIA, ELLESMERE, AXEL, DEVON, BANKS, MELVILLE, PATRICK, BATHURST, KING_WILLIAM, SOMERSET, SOUTHAMPTON, NEWFOUNDLAND, VANCOUVER]),
    ("#f24a58", [HONSHU, KYUSHU, SHIKOKU, HOKKAIDO, NORTH_KOREA, SOUTH_KOREA]),
    ("#ef3e52", [INDIA]),
    ("#e8354c", [AUSTRALIA, TASMANIA]),
    ("#d6183a", [USA48, ALASKA, HAWAII]),
    ("#d41436", [CHINA, HAINAN]),
    (HIGH, [RUSSIA, NOVAYA, FRANZ, SEVERNAYA, SEVERNAYA_S, NEWSIB, NEWSIB_E, WRANGEL, SAKHALIN, KALININGRAD]),
]
NO_DATA_TOP = [NEPAL, BHUTAN, LESOTHO, ESWATINI]


def miller(lat):
    return 1.25 * math.log(math.tan(math.pi / 4 + 0.4 * math.radians(lat)))


def poly_xy(polys, closed=True):
    xs, ys = [], []
    for p in polys:
        pts = list(p) + ([p[0]] if closed else [])
        xs += [q[0] for q in pts] + [None]
        ys += [miller(q[1]) for q in pts] + [None]
    return xs, ys


def fx(px):
    return px / W


def fy(px):
    return 1 - px / H


def round_rect(x0, y0, x1, y1, r, fill, line=None, lw=0):
    a, b, c, d = fx(x0), fy(y0), fx(x1), fy(y1)
    rx, ry = r / W, r / H
    path = (f"M{a+rx},{b} L{c-rx},{b} Q{c},{b} {c},{b-ry} L{c},{d+ry} Q{c},{d} {c-rx},{d} "
            f"L{a+rx},{d} Q{a},{d} {a},{d+ry} L{a},{b-ry} Q{a},{b} {a+rx},{b} Z")
    return dict(type="path", xref="paper", yref="paper", path=path, fillcolor=fill,
                line=dict(color=line or fill, width=lw), layer="below")


def text(x, y, s, size, color, anchor="left", weight=400):
    if anchor == "left":
        x -= 2.5
    return dict(xref="paper", yref="paper", x=fx(x), y=fy(y), text=s, showarrow=False, xanchor=anchor, yanchor="middle",
                font=dict(family=FONT, size=size, color=color, weight=weight))


fig = go.Figure()
BAR_FILL = HIGH
fig.add_trace(go.Bar(x=top_left_values, y=[0], orientation="h", width=1, marker=dict(color=BAR_FILL, line_width=0), xaxis="x", yaxis="y", hoverinfo="skip"))
fig.add_trace(go.Bar(x=top_right_values, y=[0], orientation="h", width=1, marker=dict(color=BAR_FILL, line_width=0), xaxis="x2", yaxis="y2", hoverinfo="skip"))
fig.add_trace(go.Bar(x=entity_values, y=list(range(len(entity_values))), orientation="h", width=0.73, marker=dict(color=BAR_FILL, line_width=0), xaxis="x3", yaxis="y3", hoverinfo="skip"))

map_axes = dict(xaxis="x4", yaxis="y4", mode="lines", fill="toself", hoverinfo="skip", showlegend=False)
xs, ys = poly_xy(NO_DATA)
fig.add_trace(go.Scatter(x=xs, y=ys, fillcolor=BORDER, line=dict(color=STROKE, width=2), **map_axes))
xs, ys = poly_xy(BORDER_LINES, closed=False)
fig.add_trace(go.Scatter(x=xs, y=ys, xaxis="x4", yaxis="y4", mode="lines", line=dict(color=STROKE, width=2.5), hoverinfo="skip", showlegend=False))
for color, polys in TRACKED:
    xs, ys = poly_xy(polys)
    fig.add_trace(go.Scatter(x=xs, y=ys, fillcolor=color, line=dict(color=STROKE, width=2.5), **map_axes))
xs, ys = poly_xy(NO_DATA_TOP)
fig.add_trace(go.Scatter(x=xs, y=ys, fillcolor=BORDER, line=dict(color=STROKE, width=2.5), **map_axes))
xs, ys = poly_xy([LAKE_VICTORIA])
fig.add_trace(go.Scatter(x=xs, y=ys, fillcolor=CARD, line=dict(color=STROKE, width=2), **map_axes))

tickfont = dict(family=FONT, size=24, color="#999999")
common_x = dict(showgrid=True, gridcolor=BORDER, gridwidth=2, zeroline=False, showline=True, linecolor=BORDER, linewidth=2,
                ticks="outside", ticklen=16, tickwidth=2, tickcolor=BORDER, tickfont=tickfont)
common_y = dict(showgrid=False, zeroline=False, showline=True, linecolor=BORDER, linewidth=2, ticks="outside", ticklen=15,
                tickwidth=1, tickcolor="rgba(0,0,0,0)", tickfont=tickfont)
# map axes: Miller cylindrical, x = lon
MAP_PX_PER_DEG = 5.665
MAP_X0, MAP_Y0 = 1216, 1999
MAP_PX_PER_UNIT = MAP_PX_PER_DEG * 180 / math.pi
map_left, map_right, map_top, map_bottom = 120, 2440, 1340, 2362

fig.update_layout(
    width=W, height=H, autosize=False, margin=dict(l=0, r=0, t=0, b=0, pad=0, autoexpand=False), paper_bgcolor=BG, plot_bgcolor="rgba(0,0,0,0)",
    showlegend=False, barcornerradius=8, font=dict(family=FONT), hovermode=False,
    xaxis=dict(domain=[fx(369.5), fx(1187.5)], range=[0, 9], dtick=1, showticklabels=False, **common_x),
    yaxis=dict(domain=[fy(44.7), 1], range=[-0.689, 0.283], tickvals=[0], ticktext=top_left_labels, anchor="x", **common_y),
    xaxis2=dict(domain=[fx(1589), fx(2430)], range=[0, 10], dtick=1, showticklabels=False, anchor="y2", **common_x),
    yaxis2=dict(domain=[fy(44.7), 1], range=[-0.689, 0.283], tickvals=[0], ticktext=top_right_labels, anchor="x2", **common_y),
    xaxis3=dict(domain=[fx(481.5), fx(2428)], range=[0, 200], tickvals=entity_x_ticks, anchor="y3", ticklabelstandoff=-2, **common_x),
    yaxis3=dict(domain=[fy(892.7), fy(270.5)], range=[19.5, -0.5], tickvals=entity_tick_index, ticktext=entity_tick_labels, anchor="x3", **common_y),
    xaxis4=dict(domain=[fx(map_left), fx(map_right)], range=[(map_left - MAP_X0) / MAP_PX_PER_DEG, (map_right - MAP_X0) / MAP_PX_PER_DEG], visible=False, anchor="y4"),
    yaxis4=dict(domain=[fy(map_bottom), fy(map_top)], range=[(MAP_Y0 - map_bottom) / MAP_PX_PER_UNIT, (MAP_Y0 - map_top) / MAP_PX_PER_UNIT], visible=False, anchor="x4"),
)

shapes = [
    round_rect(66, -40, 1257, 71, 16, CARD, BORDER, 2),
    round_rect(1307, -40, 2498, 71, 16, CARD, BORDER, 2),
    round_rect(66, 120, 2498, 1119, 16, CARD, BORDER, 2),
    round_rect(66, 1168, 2498, 2355, 16, CARD, BORDER, 2),
    dict(type="rect", xref="paper", yref="paper", x0=0, x1=1, y0=0, y1=fy(2421), fillcolor=CARD, line=dict(width=0), layer="below"),
    dict(type="line", xref="paper", yref="paper", x0=0, x1=1, y0=fy(2421), y1=fy(2421), line=dict(color=BORDER, width=2), layer="below"),
    round_rect(128, 1374, 158, 1404, 6, BORDER),
    round_rect(128, 1414, 158, 1444, 6, BORDER),
]
annotations = [
    text(107, 190, "Most Mentioned Entities (Last 7 Days)", 36, "#ffffff", weight=600),
    text(107, 1238, "Global Threat Distribution (Last 30 Days)", 36, "#ffffff", weight=600),
    text(107, 1303, "42 countries tracked • 6-179 articles per country", 28, "#666666"),
    text(143, 1391, "+", 30, "#ffffff", "center", 600),
    text(143, 1431, "−", 30, "#ffffff", "center", 600),
]
legend_swatch_x = [1737, 1944, 2104, 2314]
legend_text_x = [1817, 2025, 2184, 2394]
for name, color, sx, tx in zip(legend_names, legend_colors, legend_swatch_x, legend_text_x):
    shapes.append(round_rect(sx, 1214, sx + 63, 1246, 8, color))
    annotations.append(text(tx, 1231, name, 28, "#666666"))
fig.update_layout(shapes=shapes, annotations=annotations)

fig.write_html("out.html", config=dict(displayModeBar=False),
               post_script="document.body.style.margin='0';document.documentElement.style.overflow='hidden';")
